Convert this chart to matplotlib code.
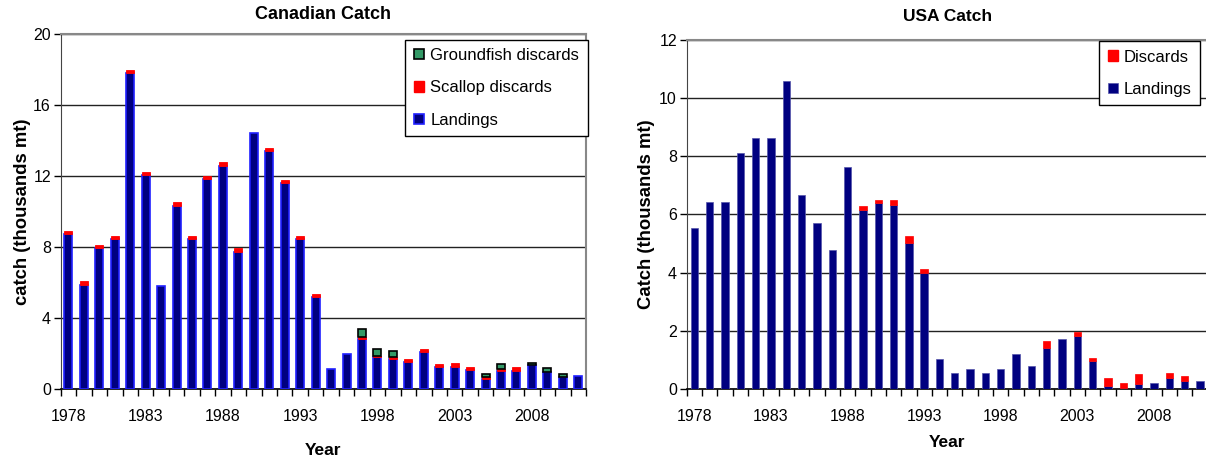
import numpy as np
import matplotlib.pyplot as plt
from matplotlib.patches import Patch

plt.rcParams['font.family'] = ['Liberation Sans', 'DejaVu Sans']

years = list(range(1978, 2012))

# Canadian catch (thousands mt)
can_landings = [8.75, 5.9, 7.95, 8.45, 17.8, 12.05, 5.8, 10.35, 8.45, 11.85,
                12.6, 7.75, 14.45, 13.4, 11.6, 8.45, 5.2, 1.13, 1.98, 2.82,
                1.8, 1.7, 1.55, 2.1, 1.25, 1.25, 1.07, 0.58, 1.03, 1.03,
                1.35, 0.96, 0.68, 0.77]
can_scallop = [0.18, 0.2, 0.19, 0.19, 0.17, 0.2, 0.0, 0.2, 0.19, 0.18,
               0.2, 0.2, 0.0, 0.2, 0.2, 0.19, 0.17, 0.0, 0.0, 0.1,
               0.1, 0.1, 0.15, 0.16, 0.16, 0.25, 0.17, 0.1, 0.1, 0.2,
               0.0, 0.0, 0.0, 0.0]
can_groundfish = [0.0] * 19 + [0.45, 0.35, 0.35, 0.0, 0.0, 0.0, 0.0, 0.0,
                               0.17, 0.28, 0.0, 0.15, 0.26, 0.17, 0.0]

# USA catch (thousands mt)
usa_landings = [5.52, 6.44, 6.44, 8.1, 8.61, 8.61, 10.59, 6.67, 5.7, 4.79,
                7.64, 6.16, 6.39, 6.33, 5.03, 3.99, 1.03, 0.57, 0.69, 0.57,
                0.69, 1.2, 0.8, 1.43, 1.72, 1.83, 0.97, 0.11, 0.06, 0.17,
                0.23, 0.4, 0.29, 0.29]
usa_discards = [0.0] * 11 + [0.12, 0.1, 0.16, 0.23, 0.13] + [0.0] * 7 + \
               [0.23, 0.0, 0.12, 0.12, 0.29, 0.17, 0.35, 0.0, 0.17, 0.17, 0.0]

label_years = years[::5]

NAVY = '#000080'
RED = '#FF0000'
GREEN = '#339966'
TICK_FS = 11.5

W, H = 1206, 462
fig = plt.figure(figsize=(W / 100, H / 100), dpi=100)


def px_axes(x0, y0, x1, y1):
    return fig.add_axes([x0 / W, 1 - y1 / H, (x1 - x0) / W, (y1 - y0) / H])


def style_axes(ax, ymax, ystep):
    x = np.arange(len(years))
    ax.set_xlim(-0.5, len(years) - 0.5)
    ax.set_ylim(0, ymax)
    ax.set_yticks(np.arange(0, ymax + 0.1, ystep))
    ax.yaxis.grid(True, color='#222222', linewidth=1)
    ax.set_axisbelow(True)
    ax.set_xticks([years.index(y) for y in label_years])
    ax.set_xticklabels([str(y) for y in label_years])
    ax.set_xticks(np.arange(-0.5, len(years)), minor=True)
    ax.tick_params(axis='x', which='major', length=0, labelsize=TICK_FS, pad=14)
    ax.tick_params(axis='x', which='minor', length=5, width=1, color='black', direction='out')
    ax.tick_params(axis='y', length=5, width=1, labelsize=TICK_FS, direction='out', pad=2)
    for s in ['top', 'right']:
        ax.spines[s].set_color('#888888')
        ax.spines[s].set_linewidth(1.5)
    ax.spines['left'].set_color('#444444')
    ax.spines['bottom'].set_color('black')
    ax.spines['bottom'].set_linewidth(1.2)
    return x


def stacked(ax, x, vals, bottom, width, **kw):
    vals = np.asarray(vals)
    bottom = np.asarray(bottom)
    m = vals > 0
    ax.bar(x[m], vals[m], width, bottom=bottom[m], zorder=3, **kw)


# Canadian
ax1 = px_axes(60.7, 34.3, 586, 389.3)
x = style_axes(ax1, 20, 4)
bw = 0.52
b_land = np.array(can_landings)
b_scal = b_land + np.array(can_scallop)
stacked(ax1, x, can_landings, np.zeros(len(x)), bw, color=NAVY, edgecolor='#2020FF', linewidth=1.2)
stacked(ax1, x, can_scallop, b_land, bw, color=RED, edgecolor=RED, linewidth=0.6)
stacked(ax1, x, can_groundfish, b_scal, bw, color=GREEN, edgecolor='black', linewidth=1.2)
ax1.set_title('Canadian Catch', fontsize=13, fontweight='bold', pad=11)
ax1.set_xlabel('Year', fontsize=12.5, fontweight='bold', labelpad=14)
ax1.set_ylabel('catch (thousands mt)', fontsize=13.3, fontweight='bold', labelpad=1.5)
h1 = [Patch(facecolor=GREEN, edgecolor='black', linewidth=1.2),
      Patch(facecolor=RED, edgecolor=RED),
      Patch(facecolor=NAVY, edgecolor='#2020FF', linewidth=1.2)]
leg1 = ax1.legend(h1, ['Groundfish discards', 'Scallop discards', 'Landings'],
                  loc='upper right', bbox_to_anchor=(1.003, 0.985), fontsize=12,
                  frameon=True, fancybox=False, edgecolor='black', framealpha=1,
                  handlelength=0.6, handleheight=0.6, handletextpad=0.4,
                  labelspacing=1.05, borderpad=0.5, borderaxespad=0)
leg1.get_frame().set_linewidth(1)
leg1.set_zorder(5)

# USA
ax2 = px_axes(686.7, 39.5, 1207.6, 389.3)
x = style_axes(ax2, 12, 2)
bw2 = 0.48
stacked(ax2, x, usa_landings, np.zeros(len(x)), bw2, color=NAVY, edgecolor='#5555AA', linewidth=0.5)
stacked(ax2, x, usa_discards, usa_landings, bw2, color=RED, edgecolor=RED, linewidth=0.5)
ax2.set_title('USA Catch', fontsize=12.5, fontweight='bold', pad=13)
ax2.set_xlabel('Year', fontsize=12.5, fontweight='bold', labelpad=8)
ax2.set_ylabel('Catch (thousands mt)', fontsize=13.3, fontweight='bold', labelpad=3)
h2 = [Patch(facecolor=RED, edgecolor=RED),
      Patch(facecolor=NAVY, edgecolor='#5555AA', linewidth=0.5)]
leg2 = ax2.legend(h2, ['Discards', 'Landings'],
                  loc='upper right', bbox_to_anchor=(0.985, 0.995), fontsize=12,
                  frameon=True, fancybox=False, edgecolor='black', framealpha=1,
                  handlelength=0.6, handleheight=0.6, handletextpad=0.35,
                  labelspacing=1.05, borderpad=0.5, borderaxespad=0)
leg2.get_frame().set_linewidth(1)
leg2.set_zorder(5)

fig.savefig('out.png', dpi=100)
